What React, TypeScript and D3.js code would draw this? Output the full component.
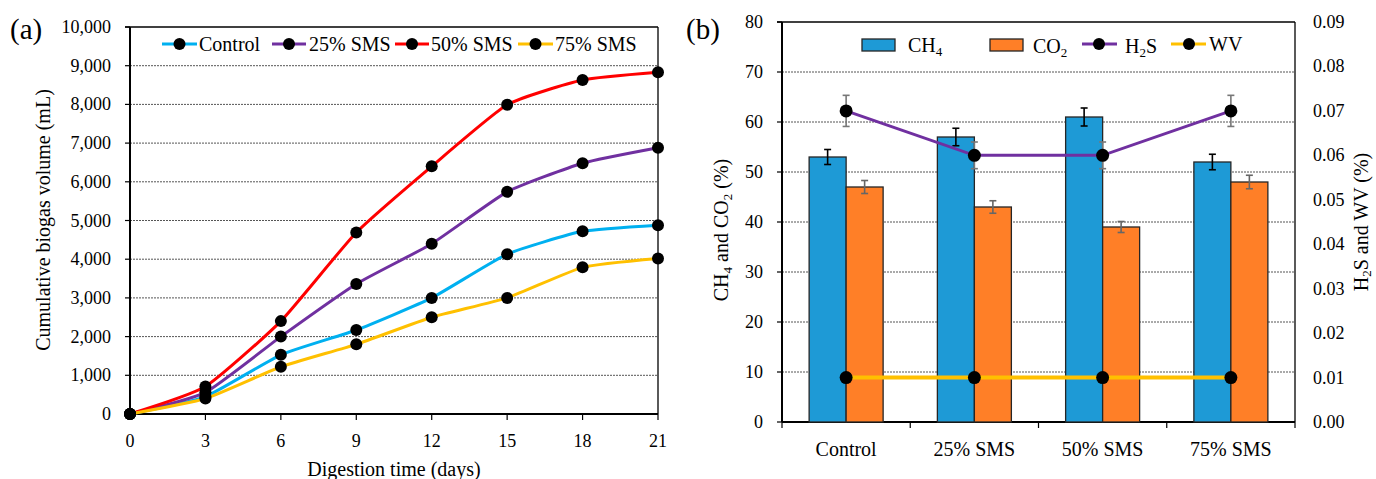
import React from "react";
import * as d3 from "d3";

const days = [0, 3, 6, 9, 12, 15, 18, 21];
const seriesNames = ["Control", "25% SMS", "50% SMS", "75% SMS"];
const controlVol = [0, 450, 1530, 2170, 3000, 4130, 4720, 4880];
const sms25Vol = [0, 560, 2000, 3360, 4400, 5740, 6480, 6880];
const sms50Vol = [0, 710, 2400, 4690, 6400, 7990, 8630, 8830];
const sms75Vol = [0, 400, 1220, 1800, 2500, 3000, 3790, 4020];
const volTicks = [0, 1000, 2000, 3000, 4000, 5000, 6000, 7000, 8000, 9000, 10000];

const categories = ["Control", "25% SMS", "50% SMS", "75% SMS"];
const ch4 = [53, 57, 61, 52];
const ch4Err = [1.5, 1.75, 1.8, 1.55];
const co2 = [47, 43, 39, 48];
const co2Err = [1.3, 1.25, 1.1, 1.35];
const h2s = [0.07, 0.06, 0.06, 0.07];
const h2sErr = [0.0035, 0.003, 0.003, 0.0035];
const wv = [0.01, 0.01, 0.01, 0.01];
const leftTicksB = [0, 10, 20, 30, 40, 50, 60, 70, 80];
const rightTicksB = [0, 0.01, 0.02, 0.03, 0.04, 0.05, 0.06, 0.07, 0.08, 0.09];

const lineColors = ["#00B0F0", "#7030A0", "#FF0000", "#FFC000"];
const FONT = "'Liberation Serif', 'Times New Roman', serif";
const TICK = 18;
const LBL = 20;

export default function App() {
  const volSeries = [controlVol, sms25Vol, sms50Vol, sms75Vol];
  // Chart A
  const ax = d3.scaleLinear().domain([0, 21]).range([130, 658]);
  const ay = d3.scaleLinear().domain([0, 10000]).range([414, 27]);
  const line = d3
    .line<number>()
    .x((_, i) => ax(days[i]))
    .y((d) => ay(d))
    .curve(d3.curveCardinal.tension(0.5));
  const fmt = d3.format(",");

  // Chart B
  const bx = d3.scaleBand<string>().domain(categories).range([782, 1295]);
  const by = d3.scaleLinear().domain([0, 80]).range([422, 22]);
  const byr = d3.scaleLinear().domain([0, 0.09]).range([422, 22]);
  const barW = 37;
  const cx = (c: string) => (bx(c) as number) + bx.bandwidth() / 2;
  const h2sLine = d3
    .line<number>()
    .x((_, i) => cx(categories[i]))
    .y((d) => byr(d));

  const legendA = [
    { x1: 162, x2: 197, tx: 199 },
    { x1: 272, x2: 306, tx: 309 },
    { x1: 395, x2: 429, tx: 431 },
    { x1: 518, x2: 553, tx: 555 },
  ];

  const errBar = (x: number, y1: number, y2: number, color: string, key: string) => (
    <g key={key} stroke={color} strokeWidth={1.6}>
      <line x1={x} x2={x} y1={y1} y2={y2} />
      <line x1={x - 3.5} x2={x + 3.5} y1={y1} y2={y1} />
      <line x1={x - 3.5} x2={x + 3.5} y1={y2} y2={y2} />
    </g>
  );

  return (
    <svg
      width={1376}
      height={479}
      style={{ position: "absolute", left: 0, top: 0, background: "#fff" }}
      fontFamily={FONT}
    >
      <rect width={1376} height={479} fill="#fff" />
      {/* ===== Chart A ===== */}
      <text x={10} y={39} fontSize={29}>(a)</text>
      {volTicks.map((t) => (
        <g key={"ga" + t}>
          {t > 0 && t < 10000 && (
            <line x1={130} x2={658} y1={ay(t)} y2={ay(t)} stroke="#555" strokeWidth={1} strokeDasharray="2,1" />
          )}
          <line x1={125} x2={130} y1={ay(t)} y2={ay(t)} stroke="#000" strokeWidth={1.2} />
          <text x={111} y={ay(t) + 6} fontSize={TICK} textAnchor="end">{fmt(t)}</text>
        </g>
      ))}
      <line x1={125} x2={658} y1={27} y2={27} stroke="#000" strokeWidth={1.3} />
      <line x1={658} x2={658} y1={27} y2={414} stroke="#000" strokeWidth={1.3} />
      <line x1={130} x2={130} y1={27} y2={414} stroke="#000" strokeWidth={2} />
      <line x1={130} x2={658} y1={414} y2={414} stroke="#000" strokeWidth={2} />
      {days.map((d) => (
        <g key={"xa" + d}>
          <line x1={ax(d)} x2={ax(d)} y1={414} y2={420} stroke="#000" strokeWidth={1.2} />
          <text x={ax(d)} y={447} fontSize={TICK} textAnchor="middle">{d}</text>
        </g>
      ))}
      <text x={394} y={476} fontSize={LBL} textAnchor="middle">Digestion time (days)</text>
      <text transform="translate(50,220) rotate(-90)" fontSize={LBL} textAnchor="middle">
        Cumulative biogas volume (mL)
      </text>
      {volSeries.map((s, si) => (
        <path key={"la" + si} d={line(s) as string} fill="none" stroke={lineColors[si]} strokeWidth={3} />
      ))}
      {volSeries.map((s, si) =>
        s.map((v, i) => <circle key={"da" + si + "-" + i} cx={ax(days[i])} cy={ay(v)} r={6} fill="#000" />)
      )}
      {seriesNames.map((n, i) => (
        <g key={"lga" + i}>
          <line x1={legendA[i].x1} x2={legendA[i].x2} y1={44} y2={44} stroke={lineColors[i]} strokeWidth={3} />
          <circle cx={(legendA[i].x1 + legendA[i].x2) / 2} cy={44} r={6} fill="#000" />
          <text x={legendA[i].tx} y={51} fontSize={LBL}>{n}</text>
        </g>
      ))}

      {/* ===== Chart B ===== */}
      <text x={686} y={39} fontSize={29}>(b)</text>
      {leftTicksB.map((t) => (
        <g key={"gb" + t}>
          {t > 0 && t < 80 && (
            <line x1={782} x2={1295} y1={by(t)} y2={by(t)} stroke="#555" strokeWidth={1} strokeDasharray="2,1" />
          )}
          <line x1={777} x2={782} y1={by(t)} y2={by(t)} stroke="#000" strokeWidth={1.2} />
          <text x={763} y={by(t) + 6} fontSize={TICK} textAnchor="end">{t}</text>
        </g>
      ))}
      {rightTicksB.map((t) => (
        <text key={"rb" + t} x={1313} y={byr(t) + 6} fontSize={TICK}>{t.toFixed(2)}</text>
      ))}
      <line x1={777} x2={1295} y1={22} y2={22} stroke="#000" strokeWidth={1.3} />
      <line x1={1295} x2={1295} y1={22} y2={422} stroke="#000" strokeWidth={1.3} />
      <line x1={782} x2={782} y1={22} y2={422} stroke="#000" strokeWidth={2} />
      <line x1={782} x2={1295} y1={422} y2={422} stroke="#000" strokeWidth={2} />
      {[0, 1, 2, 3, 4].map((i) => {
        const x = 782 + i * bx.bandwidth();
        return <line key={"tb" + i} x1={x} x2={x} y1={422} y2={428} stroke="#000" strokeWidth={1.2} />;
      })}
      {categories.map((c) => (
        <text key={"cb" + c} x={cx(c)} y={456} fontSize={LBL} textAnchor="middle">{c}</text>
      ))}
      <text transform="translate(728,230) rotate(-90)" fontSize={LBL} textAnchor="middle">
        CH<tspan fontSize={13} dy={4}>4</tspan>
        <tspan dy={-4}> and CO</tspan>
        <tspan fontSize={13} dy={4}>2</tspan>
        <tspan dy={-4}> (%)</tspan>
      </text>
      <text transform="translate(1368,222) rotate(-90)" fontSize={LBL} textAnchor="middle">
        H<tspan fontSize={13} dy={3}>2</tspan>
        <tspan dy={-3}>S and WV (%)</tspan>
      </text>
      {categories.map((c, i) => (
        <g key={"bars" + c}>
          <rect x={cx(c) - barW} y={by(ch4[i])} width={barW} height={by(0) - by(ch4[i])} fill="#1E9AD6" stroke="#262626" strokeWidth={1.3} />
          <rect x={cx(c)} y={by(co2[i])} width={barW} height={by(0) - by(co2[i])} fill="#FF7F27" stroke="#262626" strokeWidth={1.3} />
        </g>
      ))}
      {categories.map((c, i) =>
        errBar(cx(c) - barW / 2, by(ch4[i] + ch4Err[i]), by(ch4[i] - ch4Err[i]), "#000", "e1" + c)
      )}
      {categories.map((c, i) =>
        errBar(cx(c) + barW / 2, by(co2[i] + co2Err[i]), by(co2[i] - co2Err[i]), "#666", "e2" + c)
      )}
      <path d={h2sLine(wv) as string} fill="none" stroke="#FFC000" strokeWidth={4} />
      <path d={h2sLine(h2s) as string} fill="none" stroke="#7030A0" strokeWidth={3} />
      {categories.map((c, i) =>
        errBar(cx(c), byr(h2s[i] + h2sErr[i]), byr(h2s[i] - h2sErr[i]), "#777", "e3" + c)
      )}
      {categories.map((c, i) => (
        <g key={"pts" + c}>
          <circle cx={cx(c)} cy={byr(h2s[i])} r={6.5} fill="#000" />
          <circle cx={cx(c)} cy={byr(wv[i])} r={6.5} fill="#000" />
        </g>
      ))}
      {/* legend B */}
      <rect x={862} y={39} width={33} height={12} fill="#1E9AD6" stroke="#262626" strokeWidth={1.3} />
      <text x={908} y={52} fontSize={LBL}>
        CH<tspan fontSize={13} dy={4}>4</tspan>
      </text>
      <rect x={990} y={39} width={33} height={12} fill="#FF7F27" stroke="#262626" strokeWidth={1.3} />
      <text x={1033} y={53} fontSize={LBL}>
        CO<tspan fontSize={13} dy={4}>2</tspan>
      </text>
      <line x1={1082} x2={1117} y1={44} y2={44} stroke="#7030A0" strokeWidth={3} />
      <circle cx={1099} cy={44} r={6} fill="#000" />
      <text x={1125} y={53} fontSize={LBL}>
        H<tspan fontSize={13} dy={4}>2</tspan>
        <tspan dy={-4}>S</tspan>
      </text>
      <line x1={1171} x2={1206} y1={44} y2={44} stroke="#FFC000" strokeWidth={3} />
      <circle cx={1189} cy={44} r={6} fill="#000" />
      <text x={1209} y={51} fontSize={LBL}>WV</text>
    </svg>
  );
}
